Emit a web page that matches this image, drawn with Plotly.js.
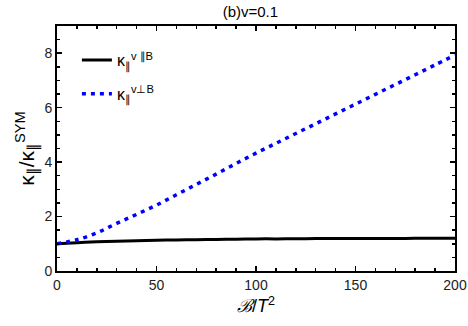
<!DOCTYPE html>
<html>
<head>
<meta charset="utf-8">
<script src="https://cdn.plot.ly/plotly-3.0.1.min.js"></script>
<style>
  body { margin: 0; background: #fff; }
  #chart { width: 468px; height: 326px; }
</style>
</head>
<body>
<div id="chart"></div>
<script>
// data
var bField = [0, 10, 20, 30, 40, 50, 60, 70, 80, 90, 100, 110, 120, 130, 140, 150, 160, 170, 180, 190, 200];
var kappaParallel = [1.0, 1.04, 1.07, 1.09, 1.11, 1.13, 1.14, 1.15, 1.16, 1.17, 1.18, 1.18, 1.185, 1.19, 1.19, 1.19, 1.195, 1.195, 1.2, 1.2, 1.2];
var kappaPerp = [1.0, 1.15, 1.4, 1.75, 2.08, 2.42, 2.8, 3.18, 3.56, 3.95, 4.33, 4.69, 5.05, 5.41, 5.77, 6.13, 6.49, 6.85, 7.21, 7.57, 7.93];
var seriesNames = ['κ<sub>∥</sub><sup>v ∥B</sup>', 'κ<sub>∥</sub><sup>v⊥B</sup>'];

var tickFont = {family: 'Liberation Sans, Arial, sans-serif', size: 14, color: '#222'};

var data = [
  {
    x: bField, y: kappaParallel, name: seriesNames[0], legendgroup: 'a',
    type: 'scatter', mode: 'lines',
    line: {color: '#000000', width: 3, shape: 'spline'}
  },
  {
    x: bField, y: kappaPerp, name: seriesNames[1], legendgroup: 'b',
    type: 'scatter', mode: 'lines',
    line: {color: '#0000ff', width: 3.5, dash: '4px,5px', shape: 'spline'}
  }
];

var layout = {
  width: 468,
  height: 326,
  margin: {l: 57, r: 13, t: 26, b: 55},
  paper_bgcolor: '#ffffff',
  plot_bgcolor: '#ffffff',
  title: {
    text: '(b)v=0.1',
    font: {family: 'Liberation Sans, Arial, sans-serif', size: 15, color: '#000'},
    x: 0.535, xanchor: 'center', y: 0.965, yanchor: 'middle'
  },
  xaxis: {
    range: [0, 200],
    tickvals: [0, 50, 100, 150, 200],
    ticks: 'inside', ticklen: 5, tickwidth: 1.5, tickcolor: '#000',
    minor: {dtick: 10, ticks: 'inside', ticklen: 3, tickcolor: '#000', showgrid: false},
    showline: true, linewidth: 2, linecolor: '#000', mirror: 'ticks',
    showgrid: false, zeroline: false,
    tickfont: tickFont,
    title: {
      text: '<i>ℬ</i>/<i>T</i><sup>2</sup>',
      font: {family: 'Liberation Sans, Arial, sans-serif', size: 18, color: '#000'},
      standoff: 8
    }
  },
  yaxis: {
    range: [0, 9],
    tickvals: [0, 2, 4, 6, 8],
    ticks: 'inside', ticklen: 5, tickwidth: 1.5, tickcolor: '#000',
    minor: {dtick: 0.5, ticks: 'inside', ticklen: 3, tickcolor: '#000', showgrid: false},
    showline: true, linewidth: 2, linecolor: '#000', mirror: 'ticks',
    showgrid: false, zeroline: false,
    tickfont: tickFont,
    title: {
      text: 'κ<sub>∥</sub>/κ<sub>∥</sub><sup>SYM</sup>',
      font: {family: 'Liberation Sans, Arial, sans-serif', size: 21, color: '#000'},
      standoff: 4
    }
  },
  showlegend: true,
  legend: {
    x: 0.05, y: 0.93, xanchor: 'left', yanchor: 'top',
    bgcolor: 'rgba(0,0,0,0)',
    font: {family: 'Liberation Sans, Arial, sans-serif', size: 16, color: '#000'},
    tracegroupgap: 10,
    itemwidth: 30
  }
};

Plotly.newPlot('chart', data, layout, {displayModeBar: false, staticPlot: true});
</script>
</body>
</html>
